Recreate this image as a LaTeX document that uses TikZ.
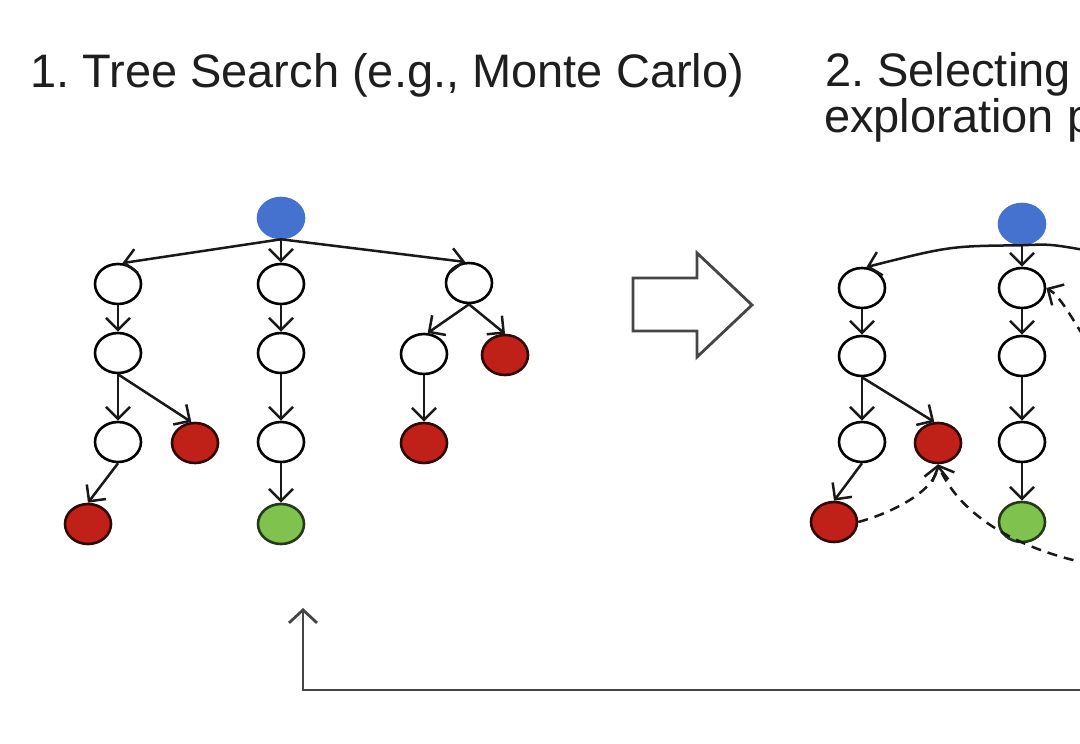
\documentclass[tikz,border=0pt]{standalone}
\usepackage{fontspec}
\setmainfont{Liberation Sans}
\usetikzlibrary{arrows.meta,shapes.geometric}
\definecolor{nblue}{HTML}{4672CF}
\definecolor{nred}{HTML}{BF2119}
\definecolor{ngreen}{HTML}{80C24E}
\definecolor{txt}{HTML}{1E1E1E}
\definecolor{garrow}{HTML}{454545}
\frenchspacing
\begin{document}
\begin{tikzpicture}[x=1pt,y=-1pt,
  nd/.style={ellipse,draw=black,line width=2.6pt,minimum width=46pt,minimum height=40pt,inner sep=0pt,fill=white},
  rootnode/.style={nd,fill=nblue,draw=nblue},
  bad/.style={nd,fill=nred,draw=black!75!nred},
  good/.style={nd,fill=ngreen,draw=black!70!ngreen},
  edge/.style={line width=2.5pt,draw=black!90,-{Straight Barb[length=12pt,width=24pt]}},
  back/.style={edge,dash pattern=on 10pt off 7pt},
  title/.style={anchor=base west,inner sep=0pt,font=\fontsize{47}{50}\selectfont,text=txt}]
\path[use as bounding box] (0,0) rectangle (1080,744);
\clip (0,0) rectangle (1080,744);
\fill[white] (0,0) rectangle (1080,744);

% titles
\node[title] (t1) at (30,87) {1. Tree Search (e.g., Monte Carlo)};
\node[title] (t2) at (825,86) {2. Selecting};
\node[title] (t3) at (824,132) {exploration p};

% tree 1
\node[rootnode] (a0) at (281,218) {};
\node[nd] (a1) at (118,284) {};
\node[nd] (b1) at (281,284) {};
\node[nd] (c1) at (469,283) {};
\node[nd] (a2) at (118,353) {};
\node[nd] (b2) at (281,353) {};
\node[nd] (c2) at (424,354) {};
\node[bad] (d2) at (505,355) {};
\node[nd] (a3) at (118,442) {};
\node[bad] (e3) at (195,443) {};
\node[nd] (b3) at (281,442) {};
\node[bad] (c3) at (424,443) {};
\node[bad] (a4) at (88,524) {};
\node[good] (b4) at (281,524) {};

\draw[edge] (a0.south) -- (a1.78);
\draw[edge] (a0.south) -- (b1.north);
\draw[edge] (a0.south) -- (c1.100);
\draw[edge] (a1) -- (a2);
\draw[edge] (a2) -- (a3);
\draw[edge] (a2.south) -- (e3.100);
\draw[edge] (a3.south) -- (a4.north);
\draw[edge] (b1) -- (b2);
\draw[edge] (b2) -- (b3);
\draw[edge] (b3) -- (b4);
\draw[edge] (c1.south) -- (c2.80);
\draw[edge] (c1.south) -- (d2.north);
\draw[edge] (c2) -- (c3);

% block arrow
\draw[line width=2.8pt,draw=garrow,fill=white,line join=miter]
  (633,278) -- (697,278) -- (697,253) -- (752,305) -- (697,357) -- (697,331) -- (633,331) -- cycle;

% tree 2
\node[rootnode] (p0) at (1022,224) {};
\node[nd] (p1) at (862,288) {};
\node[nd] (q1) at (1022,288) {};
\node[nd] (p2) at (862,356) {};
\node[nd] (q2) at (1022,356) {};
\node[nd] (p3) at (862,442) {};
\node[bad] (r3) at (938,443) {};
\node[nd] (q3) at (1022,442) {};
\node[bad] (p4) at (834,522) {};
\node[good] (q4) at (1022,522) {};

\coordinate (p0r) at (1090,251);
\draw[line width=2.5pt,draw=black!90] (p0.south) .. controls (1050,244) .. (p0r);
\draw[edge] (p0.south) .. controls (950,246) .. (p1.78);
\draw[edge] (p0.south) -- (q1.north);
\draw[edge] (p1) -- (p2);
\draw[edge] (p2) -- (p3);
\draw[edge] (p2.south) -- (r3.100);
\draw[edge] (p3.south) -- (p4.north);
\draw[edge] (q1) -- (q2);
\draw[edge] (q2) -- (q3);
\draw[edge] (q3) -- (q4);

% dashed back-propagation
\coordinate (s1) at (1092,350);
\draw[back] (s1) .. controls (1070,315) and (1060,296) .. (q1.east);
\draw[back] (p4.east) .. controls (895,512) and (935,490) .. (r3.south);
\coordinate (s2) at (1090,564);
\draw[back] (s2) .. controls (1000,545) and (955,505) .. (r3.south);

% feedback arrow
\coordinate (f0) at (1090,690);
\coordinate (f1) at (303,608);
\draw[line width=2.8pt,draw=garrow,-{Straight Barb[length=13pt,width=28pt]}] (f0) -| (f1);
\end{tikzpicture}
\end{document}
